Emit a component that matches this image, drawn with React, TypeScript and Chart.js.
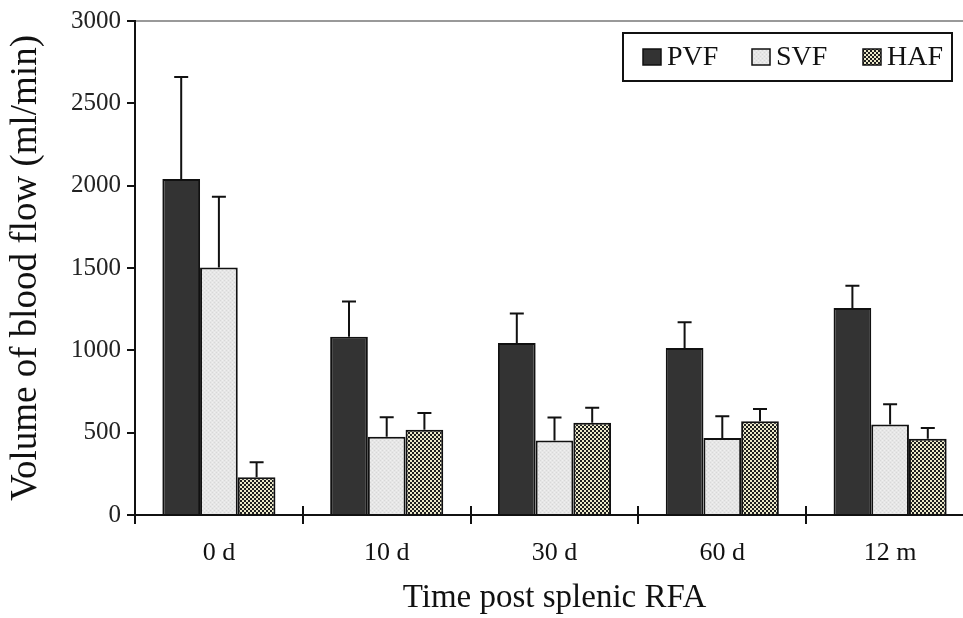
import React, { useEffect, useRef } from "react";
import { Chart, registerables } from "chart.js";

Chart.register(...registerables);

const categories = ["0 d", "10 d", "30 d", "60 d", "12 m"];
const seriesNames = ["PVF", "SVF", "HAF"];
const pvfValues = [2040, 1082, 1044, 1014, 1257];
const pvfErrors = [620, 214, 179, 157, 135];
const svfValues = [1503, 475, 453, 467, 549];
const svfErrors = [429, 118, 139, 133, 123];
const hafValues = [230, 517, 560, 569, 463];
const hafErrors = [90, 103, 92, 75, 66];
const yMin = 0;
const yMax = 3000;
const yStep = 500;
const xTitle = "Time post splenic RFA";
const yTitle = "Volume of blood flow (ml/min)";

const FONT = "'Liberation Serif', 'Times New Roman', serif";

function makePattern(size: number, draw: (g: CanvasRenderingContext2D) => void) {
  const c = document.createElement("canvas");
  c.width = size;
  c.height = size;
  const g = c.getContext("2d")!;
  draw(g);
  return g.createPattern(c, "repeat")!;
}

const errorBarPlugin = {
  id: "errorBars",
  afterDatasetsDraw(chart: any) {
    const ctx = chart.ctx;
    const yScale = chart.scales.y;
    ctx.save();
    ctx.strokeStyle = "#111";
    ctx.lineWidth = 2;
    chart.data.datasets.forEach((ds: any, di: number) => {
      const meta = chart.getDatasetMeta(di);
      meta.data.forEach((el: any, i: number) => {
        const v = ds.data[i];
        const e = ds.errors[i];
        const yTop = yScale.getPixelForValue(v + e);
        const yBar = yScale.getPixelForValue(v);
        ctx.beginPath();
        ctx.moveTo(el.x, yBar);
        ctx.lineTo(el.x, yTop);
        ctx.moveTo(el.x - 7, yTop);
        ctx.lineTo(el.x + 7, yTop);
        ctx.stroke();
      });
    });
    ctx.restore();
  },
};

const crossTickPlugin = {
  id: "crossTicks",
  afterDraw(chart: any) {
    const ctx = chart.ctx;
    const xs = chart.scales.x;
    const n = categories.length;
    const w = (xs.right - xs.left) / n;
    ctx.save();
    ctx.strokeStyle = "#111";
    ctx.lineWidth = 2;
    for (let i = 1; i < n; i++) {
      const x = Math.round(xs.left + i * w);
      ctx.beginPath();
      ctx.moveTo(x, xs.top - 9);
      ctx.lineTo(x, xs.top);
      ctx.stroke();
    }
    ctx.restore();
  },
};

const boxLegendPlugin = {
  id: "boxLegend",
  afterDraw(chart: any) {
    const ctx = chart.ctx;
    ctx.save();
    ctx.lineWidth = 2;
    ctx.strokeStyle = "#111";
    ctx.fillStyle = "#fff";
    ctx.fillRect(623, 33, 329, 48);
    ctx.strokeRect(623, 33, 329, 48);
    const xs = [643, 752, 863];
    const cy = 57;
    ctx.font = "28px " + FONT;
    ctx.textBaseline = "middle";
    chart.data.datasets.forEach((ds: any, i: number) => {
      const x = xs[i];
      ctx.fillStyle = ds.backgroundColor;
      ctx.fillRect(x, cy - 8, 18, 16);
      ctx.lineWidth = 1.5;
      ctx.strokeStyle = "#111";
      ctx.strokeRect(x, cy - 8, 18, 16);
      ctx.fillStyle = "#111";
      ctx.fillText(ds.label, x + 24, cy + 1);
    });
    ctx.restore();
  },
};

export default function App() {
  const ref = useRef<HTMLCanvasElement>(null);

  useEffect(() => {
    const canvas = ref.current!;
    const svfPattern = makePattern(4, (g) => {
      g.fillStyle = "#e6e6e6";
      g.fillRect(0, 0, 4, 4);
      g.fillStyle = "#d8d8d8";
      g.fillRect(0, 0, 1, 1);
      g.fillRect(2, 2, 1, 1);
      g.fillStyle = "#f0f0f0";
      g.fillRect(2, 0, 1, 1);
      g.fillRect(0, 2, 1, 1);
    });
    const hafPattern = makePattern(4, (g) => {
      g.fillStyle = "#ebe8c8";
      g.fillRect(0, 0, 4, 4);
      g.fillStyle = "#1e1e1e";
      g.fillRect(0, 0, 2, 2);
      g.fillRect(2, 2, 2, 2);
    });

    const chart = new Chart(canvas, {
      type: "bar",
      data: {
        labels: categories,
        datasets: [
          {
            label: seriesNames[0],
            data: pvfValues,
            errors: pvfErrors,
            backgroundColor: "#333333",
            borderColor: "#111",
            borderWidth: 2,
          } as any,
          {
            label: seriesNames[1],
            data: svfValues,
            errors: svfErrors,
            backgroundColor: svfPattern,
            borderColor: "#111",
            borderWidth: 2,
          } as any,
          {
            label: seriesNames[2],
            data: hafValues,
            errors: hafErrors,
            backgroundColor: hafPattern,
            borderColor: "#111",
            borderWidth: 2,
          } as any,
        ],
      },
      options: {
        responsive: false,
        animation: false,
        datasets: { bar: { categoryPercentage: 0.674, barPercentage: 1.0 } },
        layout: { padding: { top: 18, right: 2, left: 0, bottom: 0 } },
        plugins: {
          legend: { display: false },
          tooltip: { enabled: false },
        },
        scales: {
          x: {
            offset: true,
            grid: {
              offset: true,
              drawOnChartArea: false,
              tickLength: 9,
              tickColor: "#111",
              lineWidth: 2,
            },
            border: { color: "#111", width: 2 },
            ticks: {
              color: "#111",
              padding: 14,
              font: { family: FONT, size: 26 },
            },
            title: {
              display: true,
              text: xTitle,
              color: "#111",
              font: { family: FONT, size: 33 },
              padding: { top: 0, bottom: 0 },
            },
            afterFit: (s: any) => {
              s.height = 103;
            },
          },
          y: {
            min: yMin,
            max: yMax,
            ticks: {
              stepSize: yStep,
              color: "#222",
              padding: 6,
              font: { family: FONT, size: 25 },
              callback: (v: any) => String(v),
            },
            grid: {
              drawOnChartArea: true,
              color: (c: any) => (c.tick && c.tick.value === yMax ? "#999" : "rgba(0,0,0,0)"),
              tickColor: "#111",
              tickLength: 8,
              lineWidth: 2,
            },
            border: { color: "#111", width: 2 },
            title: {
              display: true,
              text: yTitle,
              color: "#111",
              font: { family: FONT, size: 37 },
              padding: { top: 4, bottom: 0 },
            },
            afterFit: (s: any) => {
              s.width = 135;
            },
          },
        },
      },
      plugins: [errorBarPlugin, crossTickPlugin, boxLegendPlugin],
    });
    return () => chart.destroy();
  }, []);

  return (
    <div
      style={{
        position: "fixed",
        left: 0,
        top: 0,
        width: 963,
        height: 618,
        overflow: "hidden",
        background: "#fff",
      }}
    >
      <canvas ref={ref} width={976} height={618} style={{ display: "block" }} />
    </div>
  );
}
